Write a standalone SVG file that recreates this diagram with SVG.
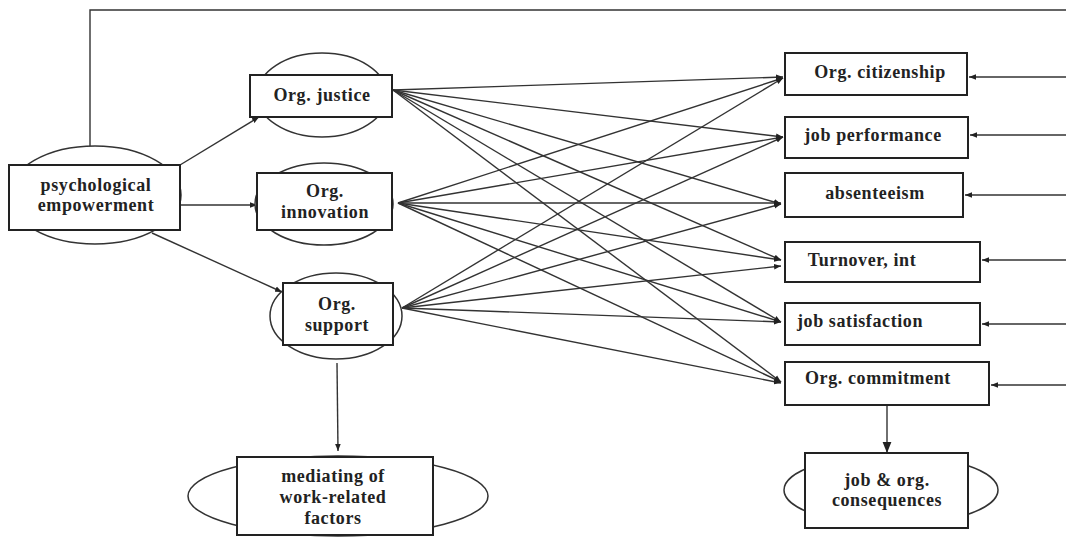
<svg xmlns="http://www.w3.org/2000/svg" width="1066" height="538" viewBox="0 0 1066 538">
<defs>
<marker id="ah" viewBox="0 0 10 10" refX="10" refY="5" markerWidth="7" markerHeight="7" markerUnits="userSpaceOnUse" orient="auto">
<path d="M0,1 L10,5 L0,9 z" fill="#222"/>
</marker>
<marker id="ahb" viewBox="0 0 10 10" refX="10" refY="5" markerWidth="11" markerHeight="11" markerUnits="userSpaceOnUse" orient="auto">
<path d="M0,1 L10,5 L0,9 z" fill="#222"/>
</marker>
</defs>
<style>
.bg{fill:#fff}
.ell{fill:#fff;stroke:#333;stroke-width:1.5}
.box{fill:#fff;stroke:#222;stroke-width:2}
.ln{fill:none;stroke:#333;stroke-width:1.4}
.t{font-family:"Liberation Serif","Times New Roman",serif;font-weight:bold;font-size:18px;letter-spacing:0.6px;fill:#222;text-anchor:middle}
</style>
<rect class="bg" x="0" y="0" width="1066" height="538"/>

<g id="connectors">
<path class="ln" d="M90,146 L90,10 L1066,10"/>
<line class="ln" x1="180" y1="165" x2="259" y2="117" marker-end="url(#ah)"/>
<line class="ln" x1="180" y1="205" x2="257" y2="205" marker-end="url(#ah)"/>
<line class="ln" x1="152" y1="233" x2="282" y2="292" marker-end="url(#ah)"/>
<line class="ln" x1="337" y1="363" x2="338" y2="451" marker-end="url(#ah)"/>
<line class="ln" x1="887" y1="405" x2="887" y2="453" marker-end="url(#ahb)"/>
<line class="ln" x1="1066" y1="77" x2="969" y2="77" marker-end="url(#ah)"/>
<line class="ln" x1="1066" y1="135" x2="970" y2="135" marker-end="url(#ah)"/>
<line class="ln" x1="1066" y1="195" x2="965" y2="195" marker-end="url(#ah)"/>
<line class="ln" x1="1066" y1="260" x2="982" y2="260" marker-end="url(#ah)"/>
<line class="ln" x1="1066" y1="324" x2="982" y2="324" marker-end="url(#ah)"/>
<line class="ln" x1="1066" y1="385" x2="991" y2="385" marker-end="url(#ah)"/>
<line class="ln" x1="393" y1="90" x2="783" y2="77" marker-end="url(#ah)"/>
<line class="ln" x1="393" y1="90" x2="783" y2="137" marker-end="url(#ah)"/>
<line class="ln" x1="393" y1="90" x2="781" y2="204" marker-end="url(#ah)"/>
<line class="ln" x1="393" y1="90" x2="781" y2="260" marker-end="url(#ah)"/>
<line class="ln" x1="393" y1="90" x2="781" y2="322" marker-end="url(#ah)"/>
<line class="ln" x1="393" y1="90" x2="781" y2="382" marker-end="url(#ah)"/>
<line class="ln" x1="398" y1="203" x2="783" y2="78" marker-end="url(#ah)"/>
<line class="ln" x1="398" y1="203" x2="783" y2="137" marker-end="url(#ah)"/>
<line class="ln" x1="398" y1="203" x2="781" y2="203" marker-end="url(#ah)"/>
<line class="ln" x1="398" y1="203" x2="781" y2="260" marker-end="url(#ah)"/>
<line class="ln" x1="398" y1="203" x2="781" y2="322" marker-end="url(#ah)"/>
<line class="ln" x1="398" y1="203" x2="781" y2="382" marker-end="url(#ah)"/>
<line class="ln" x1="402" y1="308" x2="783" y2="78" marker-end="url(#ah)"/>
<line class="ln" x1="402" y1="308" x2="783" y2="137" marker-end="url(#ah)"/>
<line class="ln" x1="402" y1="308" x2="781" y2="204" marker-end="url(#ah)"/>
<line class="ln" x1="402" y1="308" x2="781" y2="266" marker-end="url(#ah)"/>
<line class="ln" x1="402" y1="308" x2="781" y2="322" marker-end="url(#ah)"/>
<line class="ln" x1="402" y1="308" x2="781" y2="383" marker-end="url(#ah)"/>
</g>

<g id="psych">
<ellipse class="ell" cx="95" cy="195" rx="86" ry="49"/>
<rect class="box" x="9" y="165" width="171" height="65"/>
<text class="t" x="96" y="191">psychological</text>
<text class="t" x="96" y="211">empowerment</text>
</g>
<g id="justice">
<ellipse class="ell" cx="322" cy="95" rx="65" ry="42"/>
<rect class="box" x="250" y="75" width="142" height="42"/>
<text class="t" x="322" y="101">Org. justice</text>
</g>
<g id="innovation">
<ellipse class="ell" cx="324" cy="204" rx="69" ry="41"/>
<rect class="box" x="257" y="173" width="135" height="57"/>
<text class="t" x="325" y="197">Org.</text>
<text class="t" x="325" y="218">innovation</text>
</g>
<g id="support">
<ellipse class="ell" cx="336" cy="316" rx="66" ry="43"/>
<rect class="box" x="283" y="283" width="110" height="62"/>
<text class="t" x="337" y="310">Org.</text>
<text class="t" x="337" y="331">support</text>
</g>
<g id="mediating">
<ellipse class="ell" cx="338" cy="496" rx="150" ry="40"/>
<rect class="box" x="237" y="457" width="196" height="78"/>
<text class="t" x="333" y="482">mediating of</text>
<text class="t" x="333" y="503">work-related</text>
<text class="t" x="333" y="524">factors</text>
</g>
<g id="citizenship">
<rect class="box" x="785" y="53" width="182" height="42"/>
<text class="t" x="880" y="78">Org. citizenship</text>
</g>
<g id="performance">
<rect class="box" x="785" y="117" width="183" height="41"/>
<text class="t" x="873" y="141">job performance</text>
</g>
<g id="absenteeism">
<rect class="box" x="785" y="173" width="178" height="44"/>
<text class="t" x="875" y="199">absenteeism</text>
</g>
<g id="turnover">
<rect class="box" x="785" y="242" width="195" height="40"/>
<text class="t" x="862" y="266">Turnover, int</text>
</g>
<g id="satisfaction">
<rect class="box" x="785" y="303" width="195" height="42"/>
<text class="t" x="860" y="327">job satisfaction</text>
</g>
<g id="commitment">
<rect class="box" x="785" y="362" width="204" height="43"/>
<text class="t" x="878" y="384">Org. commitment</text>
</g>
<g id="consequences">
<ellipse class="ell" cx="891" cy="490" rx="107" ry="35"/>
<rect class="box" x="805" y="453" width="163" height="75"/>
<text class="t" x="887" y="486">job &amp; org.</text>
<text class="t" x="887" y="506">consequences</text>
</g>
</svg>
